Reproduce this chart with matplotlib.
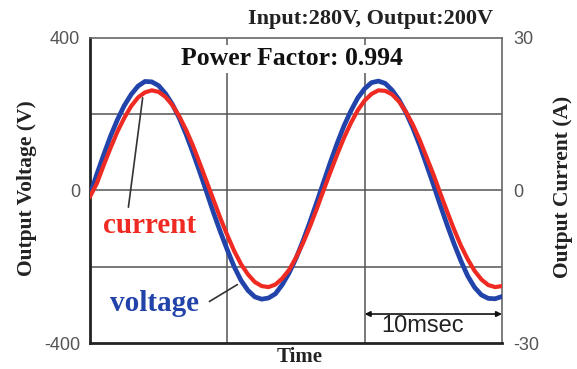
import matplotlib
matplotlib.use("Agg")
import matplotlib.pyplot as plt

# Sampled waveforms (time in ms)
time_ms = [i * 0.5 for i in range(61)]
voltage_v = [-11, 43, 94, 143, 186, 223, 252, 274, 286, 285, 275, 254, 226, 190, 147, 99,
             48, -5, -59, -109, -156, -200, -236, -262, -279, -285, -282, -271, -247, -216,
             -178, -133, -84, -32, 21, 74, 124, 170, 209, 243, 267, 283, 287, 281, 263, 238,
             205, 165, 119, 68, 16, -38, -90, -139, -184, -224, -254, -274, -283, -284, -278]
current_a = [-1.2, 1.4, 5.0, 8.4, 11.6, 14.3, 16.6, 18.3, 19.3, 19.7, 19.4, 18.4, 16.8, 14.6,
             11.9, 8.8, 5.3, 1.7, -1.9, -5.5, -8.8, -11.9, -14.5, -16.5, -18.0, -18.8, -19.0,
             -18.5, -17.3, -15.6, -13.2, -10.4, -7.2, -3.7, 0.0, 3.6, 7.1, 10.4, 13.3, 15.8,
             17.7, 19.0, 19.7, 19.6, 18.9, 17.5, 15.5, 13.0, 10.0, 6.6, 3.2, -0.5, -4.1, -7.6,
             -10.8, -13.5, -15.8, -17.5, -18.6, -19.0, -18.8]

v_ticks = [-400, 0, 400]
i_ticks = [-30, 0, 30]
v_grid = [-200, 0, 200]
t_grid = [10, 20]

BLUE = "#2244aa"
RED = "#ee2a22"
GRID = "#555555"
SERIF = "Liberation Serif"
SANS = "Liberation Sans"

W, H = 577, 369


def fx(px):
    return px / W


def fy(py):
    return 1 - py / H


fig = plt.figure(figsize=(W / 100, H / 100), dpi=100)
ax = fig.add_axes([fx(90), fy(343), 412 / W, 305 / H])
ax.set_xlim(0, 30)
ax.set_ylim(-400, 400)

for y in v_grid:
    ax.axhline(y, color=GRID, lw=1.1, zorder=1)
for x in t_grid:
    ax.axvline(x, color=GRID, lw=1.1, zorder=1)

ax.plot(time_ms, voltage_v, color=BLUE, lw=3.4, solid_joinstyle="round", zorder=3)

ax.set_xticks([])
ax.set_yticks(v_ticks)
ax.set_yticklabels([str(v) for v in v_ticks], family=SANS, fontsize=13, color="#555555")
ax.tick_params(axis="y", length=0, pad=7)
for side in ("left", "bottom"):
    ax.spines[side].set_linewidth(2.0)
    ax.spines[side].set_color("#222222")
for side in ("top", "right"):
    ax.spines[side].set_linewidth(1.2)
    ax.spines[side].set_color("#666666")

ax2 = ax.twinx()
ax2.set_ylim(-30, 30)
ax2.plot(time_ms, current_a, color=RED, lw=3.0, solid_joinstyle="round", zorder=3)
ax2.set_yticks(i_ticks)
ax2.set_yticklabels([str(v) for v in i_ticks], family=SANS, fontsize=13, color="#555555")
ax2.tick_params(axis="y", length=0, pad=8)
for s in ax2.spines.values():
    s.set_visible(False)

# Axis titles
fig.text(fx(27), fy(188), "Output Voltage (V)", family=SERIF, fontweight="bold",
         fontsize=15.5, rotation=90, ha="center", va="center", color="#222222")
fig.text(fx(563), fy(187), "Output Current (A)", family=SERIF, fontweight="bold",
         fontsize=15.5, rotation=90, ha="center", va="center", color="#222222")
fig.text(fx(300), fy(357), "Time", family=SERIF, fontweight="bold",
         fontsize=15, ha="center", va="center", color="#222222")

# Labels with leader lines
ax2.annotate("", xy=(3.86, 250 * 30 / 400), xytext=(2.77, -51 * 30 / 400),
             arrowprops=dict(arrowstyle="-", color="#333333", lw=1.2), zorder=5)
ax2.text(4.37, -93 * 30 / 400, "current", color=RED, family=SERIF, fontweight="bold",
         fontsize=21, ha="center", va="center", zorder=6)
ax2.annotate("", xy=(10.9, -243 * 30 / 400), xytext=(8.52, -295 * 30 / 400),
             arrowprops=dict(arrowstyle="-", color="#333333", lw=1.2), zorder=5)
ax2.text(4.7, -297 * 30 / 400, "voltage", color=BLUE, family=SERIF, fontweight="bold",
         fontsize=21, ha="center", va="center", zorder=6)

ax2.text(14.7, 345 * 30 / 400, "Power Factor: 0.994", family=SERIF, fontweight="bold",
         fontsize=18.5, ha="center", va="center", color="#111111",
         bbox=dict(facecolor="white", edgecolor="none", pad=2), zorder=6)

# 10 ms scale bar
ax2.annotate("", xy=(30, -324 * 30 / 400), xytext=(20, -324 * 30 / 400),
             arrowprops=dict(arrowstyle="<|-|>", color="#111111", lw=1.2,
                             mutation_scale=8, shrinkA=0, shrinkB=0), zorder=6)
ax2.text(24.2, -355 * 30 / 400, "10msec", family=SANS, fontsize=17, ha="center",
         va="center", color="#222222", zorder=6)

fig.text(fx(493), fy(19), "Input:280V, Output:200V", family=SERIF,
         fontweight="bold", fontsize=16, ha="right", va="center", color="#222222")

fig.savefig("out.png", dpi=100)
